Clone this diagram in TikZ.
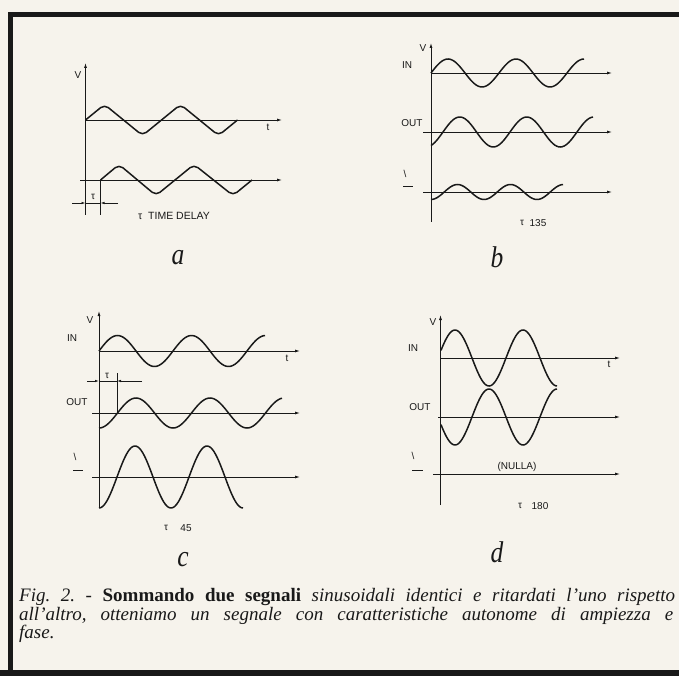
\documentclass[tikz,border=0pt]{standalone}
\usepackage{fontspec}
\setmainfont{Liberation Serif}
\setsansfont{Liberation Sans}
\newfontfamily\capfont[FakeStretch=1.0]{Liberation Serif}
\newfontfamily\tagfont[FakeStretch=0.85]{Liberation Serif}
\usetikzlibrary{arrows.meta}

\definecolor{paper}{RGB}{246,243,236}
\definecolor{ink}{RGB}{25,25,25}

\tikzset{
  axis/.style={draw=ink, line width=0.8pt, -{Latex[length=5pt,width=3pt]}},
  base/.style={draw=ink, line width=0.8pt},
  dim/.style={draw=ink, line width=0.7pt, -{Latex[length=4pt,width=2.5pt]}},
  wave/.style={draw=ink, line width=1.5pt, smooth, samples=90},
  tri/.style={draw=ink, line width=1.5pt, rounded corners=5pt},
  lbl/.style={font=\sffamily\fontsize{10}{10}\selectfont, text=ink, inner sep=0pt},
  tag/.style={font=\tagfont\itshape\fontsize{30}{30}\selectfont, text=ink, inner sep=0pt},
  capline/.style={anchor=base west, inner sep=0pt, text=ink, font=\capfont\fontsize{19}{19}\selectfont\frenchspacing},
}

\begin{document}
\begin{tikzpicture}[x=1pt,y=-1pt]
  \fill[paper] (0,0) rectangle (679,676);
  \useasboundingbox (0,0) rectangle (679,676);
  % frame
  \draw[ink, line width=5pt] (10.5,676) -- (10.5,15) -- (690,15);
  \draw[ink, line width=7pt] (0,673) -- (690,673);

  % panel a
  \draw[axis] (85.5,215) -- (85.5,63);
  \node (Va) [lbl] at (78,75) {V};
  \draw[axis] (85.5,120) -- (282,120);
  \node (ta) [lbl] at (268,127) {t};
  \draw[axis] (80,180) -- (282,180);
  \draw[tri] (85.5,120) -- (104.5,104.5) -- (142.5,135.5) -- (180.5,104.5) -- (218.5,135.5) -- (237.5,120);
  \draw[tri] (100.5,180) -- (119,164.5) -- (156,195.5) -- (194,164.5) -- (233,195.5) -- (252,180);
  \draw[base] (100.5,180) -- (100.5,215);
  \draw[dim] (72,203) -- (85.5,203);
  \draw[dim] (118,203) -- (100.5,203);
  \draw[base, line width=0.7pt] (85.5,203) -- (100.5,203);
  \node (taua) [lbl] at (93,197) {τ};
  \node (delay) [lbl, anchor=west, font=\sffamily\fontsize{10.5}{10.5}\selectfont] at (138,216) {τ\ \ TIME DELAY};
  \node (a) [tag] at (178,258) {a};

  % panel b
  \draw[axis] (431,222) -- (431,43);
  \node (Vb) [lbl] at (423,48) {V};
  \node (inb) [lbl] at (407,65) {IN};
  \draw[axis] (431,73) -- (612,73);
  \draw[wave] plot[domain=431:584] (\x, {73 - 14*sin((\x-431)/68*360)});
  \node (outb) [lbl] at (412,123) {OUT};
  \draw[axis] (423,132) -- (612,132);
  \draw[wave] plot[domain=431:593] (\x, {132 - 15*sin((\x-443)/67*360)});
  \node (sumb) [lbl] at (405,174) {\textbackslash};
  \draw[base] (403,186) -- (413,186);
  \draw[axis] (423,192) -- (612,192);
  \draw[wave] plot[domain=431:563] (\x, {192 + 7.5*cos((\x-431)/53*360)});
  \node (taub) [lbl] at (522,223) {τ};
  \node (degb) [lbl] at (538,223) {135};
  \node (b) [tag] at (497,257) {b};

  % panel c
  \draw[axis] (99,508) -- (99,311);
  \node (Vc) [lbl] at (90,320) {V};
  \node (inc) [lbl] at (72,338) {IN};
  \draw[axis] (99,351) -- (300,351);
  \node (tc) [lbl] at (287,358) {t};
  \draw[wave] plot[domain=99:265] (\x, {351 - 15.5*sin((\x-99)/74*360)});
  \draw[dim] (87,381) -- (99,381);
  \draw[dim] (142,381) -- (117,381);
  \draw[base, line width=0.7pt] (99,381) -- (117,381);
  \draw[base] (117,373) -- (117,413);
  \node (tauc) [lbl] at (107,376) {τ};
  \node (outc) [lbl] at (77,402) {OUT};
  \draw[axis] (92,413) -- (300,413);
  \draw[wave] plot[domain=99:282] (\x, {413 - 15*sin((\x-117.5)/74*360)});
  \node (sumc) [lbl] at (75,457) {\textbackslash};
  \draw[base] (73,470) -- (83,470);
  \draw[axis] (92,477) -- (300,477);
  \draw[wave] plot[domain=99:243] (\x, {477 + 31*cos((\x-99)/72*360)});
  \node (tauc2) [lbl] at (166,528) {τ};
  \node (degc) [lbl] at (186,528) {45};
  \node (c) [tag] at (183,560) {c};

  % panel d
  \draw[axis] (440.5,505) -- (440.5,315);
  \node (Vd) [lbl] at (433,322) {V};
  \node (ind) [lbl] at (413,348) {IN};
  \draw[axis] (440.5,358) -- (620,358);
  \node (td) [lbl] at (609,364) {t};
  \draw[wave] plot[domain=441:557] (\x, {358 - 28*sin((\x-438)/68*360)});
  \node (outd) [lbl] at (420,407) {OUT};
  \draw[axis] (438,417) -- (620,417);
  \draw[wave] plot[domain=441:557] (\x, {417 + 28*sin((\x-438)/68*360)});
  \node (sumd) [lbl] at (413,456) {\textbackslash};
  \draw[base] (412,470) -- (423,470);
  \draw[axis] (433,474) -- (620,474);
  \node (nulla) [lbl] at (517,467) {(NULLA)};
  \node (taud) [lbl] at (520,506) {τ};
  \node (degd) [lbl] at (540,506) {180};
  \node (d) [tag] at (497,552) {d};

  % caption
  \node (cap1) [capline] at (19,601) {\makebox[656pt][s]{\itshape Fig. 2. - \textbf{\upshape Sommando due segnali} sinusoidali identici e ritardati l’uno rispetto}};
  \node (cap2) [capline] at (19,620) {\makebox[654pt][s]{\itshape all’altro, otteniamo un segnale con caratteristiche autonome di ampiezza e}};
  \node (cap3) [capline] at (19,638) {\itshape fase.};
\end{tikzpicture}
\end{document}
